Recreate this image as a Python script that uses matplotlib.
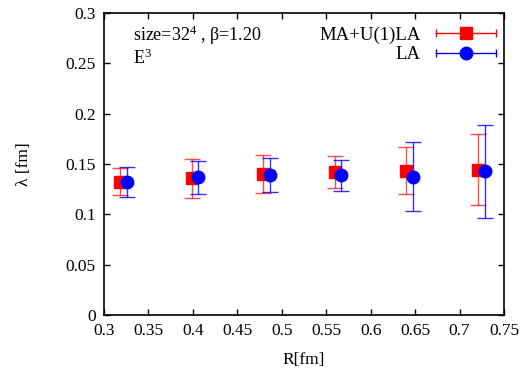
import matplotlib
matplotlib.use("Agg")
import matplotlib.pyplot as plt
from matplotlib.lines import Line2D
from matplotlib.legend_handler import HandlerLine2D, HandlerTuple
import numpy as np

plt.rcParams["font.family"] = ["Liberation Serif", "DejaVu Serif"]
plt.rcParams["mathtext.fontset"] = "custom"
plt.rcParams["mathtext.rm"] = "Liberation Serif"
plt.rcParams["mathtext.it"] = "Liberation Serif:italic"

# ── data ──────────────────────────────────────────────────
r_ma = [0.318, 0.399, 0.479, 0.560, 0.640, 0.721]
lam_ma = [0.132, 0.136, 0.140, 0.142, 0.1435, 0.144]
ma_hi = [0.146, 0.155, 0.159, 0.158, 0.167, 0.180]
ma_lo = [0.119, 0.116, 0.121, 0.126, 0.120, 0.109]

r_la = [0.326, 0.406, 0.487, 0.567, 0.648, 0.729]
lam_la = [0.132, 0.137, 0.1395, 0.139, 0.1375, 0.143]
la_hi = [0.1475, 0.153, 0.156, 0.1545, 0.1715, 0.189]
la_lo = [0.1175, 0.120, 0.1225, 0.1235, 0.103, 0.0965]

xticks = [0.3, 0.35, 0.4, 0.45, 0.5, 0.55, 0.6, 0.65, 0.7, 0.75]
yticks = [0, 0.05, 0.1, 0.15, 0.2, 0.25, 0.3]

fig = plt.figure(figsize=(5.32, 3.75), dpi=100)
ax = fig.add_axes([0.1955, 0.16, 0.752, 0.805])

err_ma = [np.array(lam_ma) - np.array(ma_lo), np.array(ma_hi) - np.array(lam_ma)]
err_la = [np.array(lam_la) - np.array(la_lo), np.array(la_hi) - np.array(lam_la)]

ax.errorbar(r_ma, lam_ma, yerr=err_ma, fmt="s", color="red", ms=9,
            ecolor=(1, 0, 0, 0.7), elinewidth=1, capsize=6, capthick=1, zorder=2)
ax.errorbar(r_la, lam_la, yerr=err_la, fmt="o", color="blue", ms=9,
            ecolor=(0, 0, 1, 0.8), elinewidth=1, capsize=6, capthick=1, zorder=3)

ax.set_xlim(0.3, 0.75)
ax.set_ylim(0, 0.3)
ax.set_xticks(xticks)
ax.set_xticklabels([f"{v:g}" for v in xticks])
ax.set_yticks(yticks)
ax.set_yticklabels([f"{v:g}" for v in yticks])
ax.tick_params(direction="in", top=True, right=True, length=4, width=1,
               labelsize=12.5, pad=6)
for s in ax.spines.values():
    s.set_linewidth(1.2)

ax.set_xlabel("R[fm]", fontsize=12.5, labelpad=9)
ax.set_ylabel("λ [fm]", fontsize=12.5, labelpad=24)

ax.text(0.072, 0.925, "size=32$^4$ , β=1.20", transform=ax.transAxes, fontsize=13,
        va="center")
ax.text(0.072, 0.85, "E$^3$", transform=ax.transAxes, fontsize=13, va="center")

# gnuplot-style legend: horizontal line with end ticks and marker
def key_handle(color, marker):
    line = Line2D([], [], color=color, lw=1)
    caps = Line2D([], [], color=color, lw=0, marker="|", ms=6, mew=1)
    mark = Line2D([], [], color=color, lw=0, marker=marker, ms=9)
    return (line, caps, mark), caps

h_ma, c_ma = key_handle("red", "s")
h_la, c_la = key_handle("blue", "o")
hmap = {c_ma: HandlerLine2D(numpoints=2, marker_pad=0),
        c_la: HandlerLine2D(numpoints=2, marker_pad=0),
        tuple: HandlerTuple(ndivide=1, pad=0)}
ax.legend([h_ma, h_la], ["MA+U(1)LA", "LA"], handler_map=hmap,
          loc="upper right", bbox_to_anchor=(1.012, 1.0), frameon=False,
          markerfirst=False, fontsize=13.5, handlelength=3.2, handletextpad=0.8,
          labelspacing=0.15, numpoints=1, borderaxespad=0.3)

fig.savefig("out.png", dpi=100)
